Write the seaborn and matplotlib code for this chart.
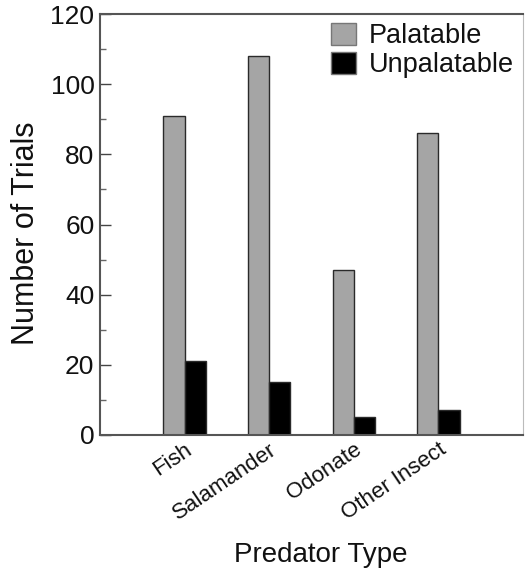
import matplotlib
matplotlib.use("Agg")
import matplotlib.pyplot as plt
import seaborn as sns
import pandas as pd
from matplotlib.ticker import MultipleLocator

categories = ["Fish", "Salamander", "Odonate", "Other Insect"]
palatable = [91, 108, 47, 86]
unpalatable = [21, 15, 5, 7]
series_names = ["Palatable", "Unpalatable"]
yticks = [0, 20, 40, 60, 80, 100, 120]

df = pd.DataFrame({
    "Predator Type": categories * 2,
    "Number of Trials": palatable + unpalatable,
    "Series": [series_names[0]] * len(categories) + [series_names[1]] * len(categories),
})

sns.set_style("ticks")
plt.rcParams["font.family"] = ["Liberation Sans", "DejaVu Sans"]
plt.rcParams["text.color"] = "#111111"
plt.rcParams["axes.labelcolor"] = "#111111"
plt.rcParams["xtick.labelcolor"] = "#111111"
plt.rcParams["ytick.labelcolor"] = "#111111"

fig = plt.figure(figsize=(5.28, 5.69), dpi=100)
ax = fig.add_axes([100/528, 1-435/569, 423/528, 421/569])

sns.barplot(data=df, x="Predator Type", y="Number of Trials", hue="Series",
            palette={"Palatable": "#a5a5a5", "Unpalatable": "#000000"},
            width=0.5, edgecolor="#2a2a2a", linewidth=1.0, ax=ax, saturation=1)

ax.set_xlim(-1, 4)
ax.set_ylim(0, 120)
ax.set_yticks(yticks)
ax.yaxis.set_minor_locator(MultipleLocator(10))
ax.tick_params(axis="y", which="major", direction="in", length=8, width=1,
               labelsize=19, color="#444444", pad=4, labelcolor="#111111")
ax.tick_params(axis="y", which="minor", direction="in", length=4, width=1,
               color="#666666")
ax.tick_params(axis="x", length=0, labelsize=16, pad=3, labelcolor="#111111")
for lbl in ax.get_xticklabels():
    lbl.set_rotation(34)
    lbl.set_ha("right")
    lbl.set_va("top")
    lbl.set_rotation_mode("anchor")

for side in ["left", "bottom", "top"]:
    ax.spines[side].set_color("#555555")
    ax.spines[side].set_linewidth(1.5)
ax.spines["right"].set_color("#bbbbbb")
ax.spines["right"].set_linewidth(0.8)
ax.spines["right"].set_visible(True)
ax.spines["top"].set_visible(True)

ax.set_xlabel("Predator Type", fontsize=20, color="#111111")
ax.xaxis.set_label_coords(0.521, -0.254)
ax.set_ylabel("Number of Trials", fontsize=22, color="#111111")
ax.yaxis.set_label_coords(-0.139, 0.48)

leg = ax.legend(loc="upper right", frameon=False, fontsize=19.5,
                handlelength=0.92, handleheight=0.85, handletextpad=0.45,
                labelspacing=0.1, borderaxespad=0, borderpad=0,
                bbox_to_anchor=(0.978, 0.978))
for h in leg.legend_handles:
    h.set_edgecolor("#777777")
for t in leg.get_texts():
    t.set_color("#111111")

fig.savefig("out.png", dpi=100)
